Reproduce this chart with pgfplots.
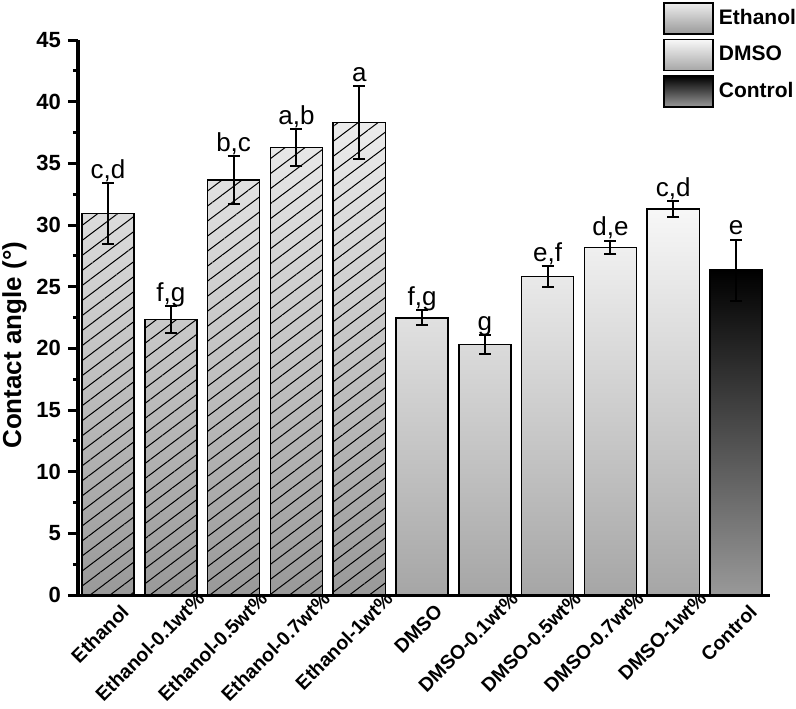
\documentclass[border=0pt]{standalone}
\usepackage{fontspec}
\setmainfont{Liberation Sans}
\usepackage{pgfplots}
\pgfplotsset{compat=1.18}
\usepackage{pgfplotstable}
\usetikzlibrary{patterns.meta}

\tikzset{hatch/.style={pattern={Lines[angle=37,distance=6pt,line width=0.5pt]}}}
\pgfplotsset{
  boxlegend/.style={legend image code/.code={\draw[##1,/tikz/.cd] (0pt,-7.75pt) rectangle (24.5pt,7.75pt);}},
  hatchlegend/.style={legend image code/.code={\draw[##1,/tikz/.cd] (0pt,-7.75pt) rectangle (24.5pt,7.75pt);
      \path[hatch] (0pt,-7.75pt) rectangle (24.5pt,7.75pt);
      \draw[black, line width=0.75pt] (0pt,-7.75pt) rectangle (24.5pt,7.75pt);}},
}

\pgfplotstableread{
x y err lab
0 30.93 2.46 c,d
1 22.34 1.08 f,g
2 33.63 1.95 b,c
3 36.28 1.50 a,b
4 38.33 2.94 a
5 22.47 0.60 f,g
6 20.30 0.77 g
7 25.82 0.85 e,f
8 28.17 0.55 d,e
9 31.28 0.65 c,d
10 26.34 2.48 e
}\data

\pgfplotstableread{
x y
0 30.93
1 22.34
2 33.63
3 36.28
4 38.33
}\ethanol

\pgfplotstableread{
x y
5 22.47
6 20.30
7 25.82
8 28.17
9 31.28
}\dmso

\pgfplotstableread{
x y
10 26.34
}\control

\newcommand{\sh}[1]{#1\hspace*{9pt}}

\begin{document}
\begin{tikzpicture}
\useasboundingbox (-39pt,-56.5pt) rectangle (359pt,297.5pt);
\begin{axis}[
  scale only axis, width=346pt, height=277.5pt,
  xmin=-0.478, xmax=10.54, ymin=0, ymax=45,
  axis lines=left,
  axis line style={-, line width=1.5pt, black},
  clip=false,
  ytick={0,5,...,45}, minor y tick num=1,
  xtick={0,...,10},
  xticklabels={\sh{Ethanol}, Ethanol-0.1wt\%, Ethanol-0.5wt\%, Ethanol-0.7wt\%, Ethanol-1wt\%, \sh{DMSO}, DMSO-0.1wt\%, DMSO-0.5wt\%, DMSO-0.7wt\%, DMSO-1wt\%, \sh{Control}},
  x tick style={draw=none},
  y tick style={line width=1.5pt, black},
  tick align=outside, major tick length=5pt, minor tick length=2.5pt,
  /pgf/number format/assume math mode=true,
  yticklabel style={font=\fontsize{11}{12}\selectfont\bfseries},
  xticklabel style={rotate=45, anchor=north east, inner sep=0pt, xshift=14pt, yshift=-3.5pt, font=\fontsize{9.75}{11}\selectfont\bfseries},
  ylabel={Contact angle (°)},
  ylabel shift=-2pt,
  ylabel style={font=\fontsize{13}{15}\selectfont\bfseries, at={(ticklabel cs:0.45)}},
  legend style={at={(0.8454,1.0685)}, anchor=north west, draw=none, fill=none,
    inner sep=0pt, row sep=2pt, font=\fontsize{10.5}{12}\selectfont\bfseries,
    nodes={inner xsep=2.5pt, inner ysep=0pt}},
  legend cell align=left,
]
\addplot[ybar, mark=none, bar width=0.83, bar shift=0pt, draw=black, line width=0.75pt,
  top color=gray!15, middle color=white, bottom color=gray!80, hatchlegend]
  table[x=x,y=y] {\ethanol};
\addlegendentry{Ethanol}
\addplot[ybar, mark=none, bar width=0.83, bar shift=0pt, draw=black, line width=0.75pt,
  top color=white!97!black, middle color=white, bottom color=gray!70, boxlegend]
  table[x=x,y=y] {\dmso};
\addlegendentry{DMSO}
\addplot[ybar, mark=none, bar width=0.83, bar shift=0pt, draw=black, line width=0.75pt,
  top color=black, middle color=black!95, bottom color=gray!80, boxlegend]
  table[x=x,y=y] {\control};
\addlegendentry{Control}

\addplot[ybar, mark=none, bar width=0.83, bar shift=0pt, draw=black, line width=0.75pt,
  fill=none, hatch, forget plot]
  table[x=x,y=y] {\ethanol};

\addplot[draw=none, mark=none, forget plot,
  error bars/.cd, y dir=both, y explicit,
  error bar style={line width=1pt, draw=black},
  error mark options={rotate=90, mark size=3pt, line width=1pt, draw=black}]
  table[x=x, y=y, y error=err] {\data};

\addplot[draw=none, mark=none, forget plot,
  nodes near coords, point meta=explicit symbolic,
  nodes near coords style={anchor=base, yshift=2.5pt, font=\fontsize{13}{14}\selectfont, text=black}]
  table[x=x, y expr=\thisrow{y}+\thisrow{err}, meta=lab] {\data};
\end{axis}
\end{tikzpicture}
\end{document}
